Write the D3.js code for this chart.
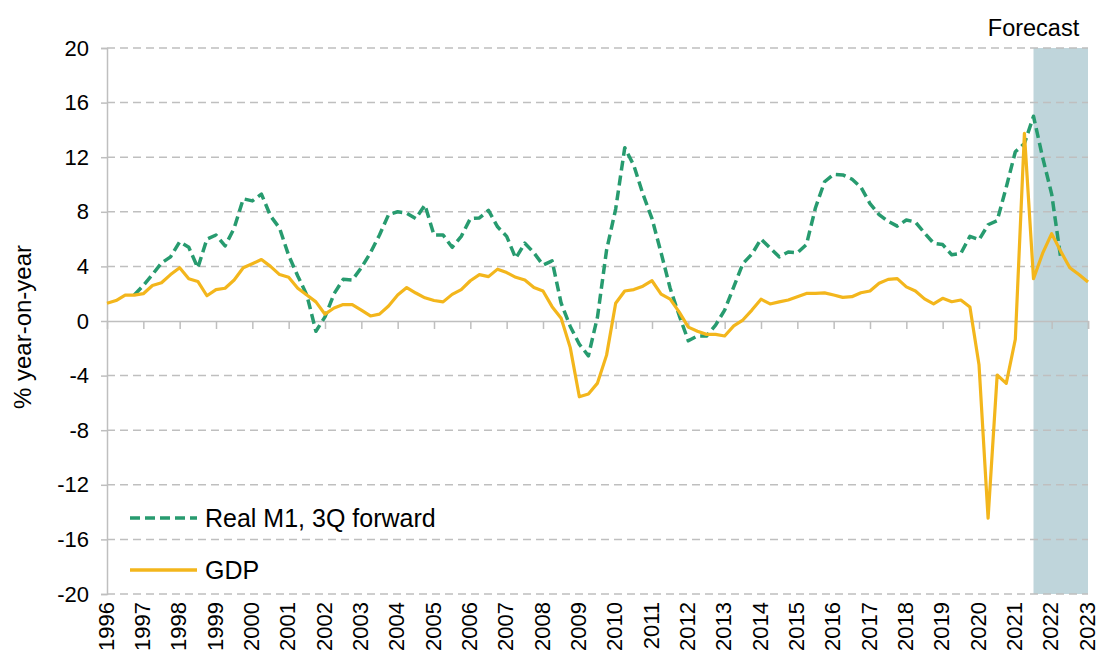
<!DOCTYPE html>
<html>
<head>
<meta charset="utf-8">
<script src="https://cdn.jsdelivr.net/npm/d3@7"></script>
<style>
  html, body { margin: 0; padding: 0; background: #fff; }
  svg { display: block; font-family: "Liberation Sans", Arial, sans-serif; }
</style>
</head>
<body>
<svg id="chart" width="1100" height="668"></svg>
<script>
// ---- Data (quarterly, % year-on-year) ----
const yearLabels = ["1996","1997","1998","1999","2000","2001","2002","2003","2004","2005","2006","2007","2008","2009","2010","2011","2012","2013","2014","2015","2016","2017","2018","2019","2020","2021","2022","2023"];
const yTicks = [-20,-16,-12,-8,-4,0,4,8,12,16,20];

// GDP: 1996Q1 .. 2023Q1
const gdpStart = 1996.0;
const gdpValues = [
  1.3, 1.5, 1.9, 1.9,
  2.0, 2.6, 2.8, 3.4,
  3.9, 3.1, 2.9, 1.85,
  2.3, 2.4, 3.0, 3.9,
  4.2, 4.5, 4.0, 3.4,
  3.2, 2.4, 1.9, 1.4,
  0.5, 0.95, 1.2, 1.2,
  0.8, 0.37, 0.5, 1.1,
  1.9, 2.45, 2.05, 1.7,
  1.5, 1.4, 1.95, 2.3,
  2.95, 3.4, 3.25, 3.8,
  3.55, 3.2, 3.0, 2.45,
  2.2, 1.05, 0.2, -1.95,
  -5.55, -5.35, -4.55, -2.5,
  1.3, 2.2, 2.3, 2.55,
  2.95, 1.97, 1.6, 0.65,
  -0.45, -0.75, -0.98, -0.98,
  -1.1, -0.36, 0.07, 0.8,
  1.6, 1.25, 1.4, 1.54,
  1.78, 2.02, 2.02, 2.06,
  1.9, 1.73, 1.78, 2.07,
  2.2, 2.76, 3.05, 3.1,
  2.5, 2.2, 1.62, 1.25,
  1.66, 1.41, 1.54, 1.02,
  -3.2, -14.45, -3.96, -4.57,
  -1.34, 13.75, 3.1, 4.95,
  6.4, 5.1, 3.9, 3.4,
  2.85
];

// Real M1, 3Q forward: 1996Q4 .. 2022Q2
const m1Start = 1996.75;
const m1Values = [
  1.9,
  2.6, 3.4, 4.25, 4.7,
  5.8, 5.4, 3.9, 6.0,
  6.3, 5.5, 6.8, 8.95,
  8.8, 9.3, 7.7, 6.8,
  4.8, 3.3, 1.9, -0.75,
  0.3, 2.0, 3.05, 3.0,
  3.9, 5.0, 6.3, 7.8,
  8.0, 7.9, 7.5, 8.5,
  6.3, 6.3, 5.4, 6.2,
  7.5, 7.55, 8.1, 6.9,
  6.2, 4.6, 5.7, 5.0,
  4.1, 4.4, 1.3, -0.4,
  -1.7, -2.55, 0.3, 5.2,
  8.2, 12.7, 11.4, 9.3,
  7.5, 5.0, 2.4, 0.4,
  -1.45, -1.1, -1.1, -0.3,
  0.8, 2.5, 4.2, 4.9,
  6.0, 5.35, 4.7, 5.05,
  5.0, 5.6, 8.3, 10.2,
  10.75, 10.7, 10.4, 9.8,
  8.6, 7.8, 7.3, 6.95,
  7.4, 7.25, 6.45, 5.7,
  5.6, 4.85, 4.95, 6.2,
  5.95, 7.05, 7.35, 9.8,
  12.4, 13.0, 15.0, 12.0,
  9.3, 4.6
];

const forecastStart = 2021.5;
const forecastEnd = 2023.0;

// ---- Layout ----
const svg = d3.select("#chart");
const plotLeft = 107, plotRight = 1088, plotTop = 48, plotBottom = 594;

const x = d3.scaleLinear().domain([1996, 2023]).range([plotLeft, plotRight]);
const y = d3.scaleLinear().domain([-20, 20]).range([plotBottom, plotTop]);

const gdp = gdpValues.map((v, i) => ({t: gdpStart + i / 4, v}));
const m1 = m1Values.map((v, i) => ({t: m1Start + i / 4, v}));

// Forecast band
svg.append("rect")
  .attr("x", x(forecastStart)).attr("y", y(20))
  .attr("width", x(forecastEnd) - x(forecastStart))
  .attr("height", y(-20) - y(20))
  .attr("fill", "#bfd5db");

svg.append("text")
  .attr("x", x(forecastStart)).attr("y", 36)
  .attr("text-anchor", "middle")
  .attr("font-size", 23.5).attr("fill", "#000")
  .text("Forecast");

// Gridlines (dashed), excluding zero
svg.append("g").selectAll("line")
  .data(yTicks.filter(d => d !== 0))
  .join("line")
  .attr("x1", plotLeft).attr("x2", plotRight)
  .attr("y1", d => y(d)).attr("y2", d => y(d))
  .attr("stroke", "#bfbfbf").attr("stroke-width", 1.5)
  .attr("stroke-dasharray", "8,5");

// Y axis
const yAxis = d3.axisLeft(y).tickValues(yTicks).tickSize(6).tickFormat(d => String(d));
const gy = svg.append("g").attr("transform", `translate(${plotLeft},0)`).call(yAxis);
gy.select(".domain").attr("stroke", "#bfbfbf").attr("stroke-width", 1.5);
gy.selectAll(".tick line").attr("stroke", "#bfbfbf").attr("stroke-width", 1.5);
gy.selectAll(".tick text")
  .attr("font-size", 22).attr("fill", "#000")
  .attr("font-family", "Liberation Sans, Arial, sans-serif")
  .attr("x", -18);

// Zero axis line with year ticks
const years = yearLabels.map(Number);
const xAxisZero = d3.axisBottom(x).tickValues(years.slice(1)).tickSize(8).tickFormat("");
const gx0 = svg.append("g").attr("transform", `translate(0,${y(0)})`).call(xAxisZero);
gx0.select(".domain").attr("stroke", "#bfbfbf").attr("stroke-width", 1.5);
gx0.selectAll(".tick line").attr("stroke", "#bfbfbf").attr("stroke-width", 1.5);

// Year labels at the bottom, rotated
svg.append("g").selectAll("text")
  .data(yearLabels)
  .join("text")
  .attr("transform", d => `translate(${x(+d) - 1},${plotBottom + 8}) rotate(-90)`)
  .attr("text-anchor", "end")
  .attr("dominant-baseline", "central")
  .attr("font-size", 22).attr("fill", "#000")
  .text(d => d);

// Y axis title
svg.append("text")
  .attr("transform", `translate(31,327) rotate(-90)`)
  .attr("text-anchor", "middle")
  .attr("font-size", 24).attr("fill", "#000")
  .text("% year-on-year");

// Lines
const line = d3.line().x(d => x(d.t)).y(d => y(d.v));
const green = "#279b6f", gold = "#f3b61c";

svg.append("path").datum(m1)
  .attr("d", line).attr("fill", "none")
  .attr("stroke", green).attr("stroke-width", 3.5)
  .attr("stroke-dasharray", "10,5")
  .attr("stroke-linejoin", "round");

svg.append("path").datum(gdp)
  .attr("d", line).attr("fill", "none")
  .attr("stroke", gold).attr("stroke-width", 3.2)
  .attr("stroke-linejoin", "round");

// Legend
const legend = [
  {label: "Real M1, 3Q forward", color: green, dash: "10,5", yy: 518},
  {label: "GDP", color: gold, dash: null, yy: 570}
];
const lg = svg.append("g");
legend.forEach(l => {
  lg.append("line")
    .attr("x1", 130).attr("x2", 197).attr("y1", l.yy).attr("y2", l.yy)
    .attr("stroke", l.color).attr("stroke-width", 3.5)
    .attr("stroke-dasharray", l.dash);
  lg.append("text")
    .attr("x", 205).attr("y", l.yy)
    .attr("dominant-baseline", "central")
    .attr("font-size", 25).attr("fill", "#000")
    .text(l.label);
});
</script>
</body>
</html>
